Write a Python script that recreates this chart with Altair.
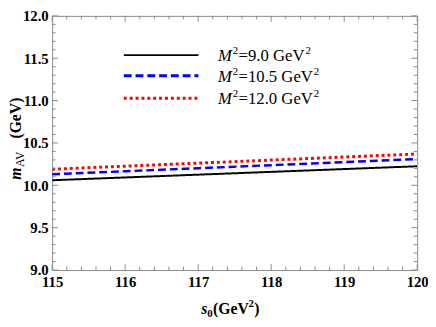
import altair as alt
import pandas as pd

# ---- data ----
s0 = [115, 116, 117, 118, 119, 120]
m_M9 = [10.06, 10.093, 10.126, 10.159, 10.192, 10.225]
m_M105 = [10.13, 10.166, 10.202, 10.238, 10.274, 10.31]
m_M12 = [10.19, 10.226, 10.262, 10.298, 10.334, 10.37]

series_names = ["M2=9.0", "M2=10.5", "M2=12.0"]
legend_mid = ["=9.0 GeV", "=10.5 GeV", "=12.0 GeV"]
colors = ["#000000", "#0000ff", "#ff0000"]
dashes = [[1, 0], [8, 4], [3, 3]]
widths = [2, 3, 3]

x_major = [115, 116, 117, 118, 119, 120]
x_minor = [115.2, 115.4, 115.6, 115.8, 116.2, 116.4, 116.6, 116.8,
           117.2, 117.4, 117.6, 117.8, 118.2, 118.4, 118.6, 118.8,
           119.2, 119.4, 119.6, 119.8]
y_major = [9.0, 9.5, 10.0, 10.5, 11.0, 11.5, 12.0]
y_minor = [9.1, 9.2, 9.3, 9.4, 9.6, 9.7, 9.8, 9.9, 10.1, 10.2, 10.3, 10.4,
           10.6, 10.7, 10.8, 10.9, 11.1, 11.2, 11.3, 11.4, 11.6, 11.7, 11.8, 11.9]

W, H = 372, 259
FONT = "Liberation Serif"
TICK = "#8a8a8a"

rows = []
for name, vals in zip(series_names, [m_M9, m_M105, m_M12]):
    for x, y in zip(s0, vals):
        rows.append({"s0": x, "m": y, "series": name})
df = pd.DataFrame(rows)

xs = alt.Scale(domain=[115, 120], nice=False, zero=False)
ys = alt.Scale(domain=[9, 12], nice=False, zero=False)

x_axis = alt.Axis(
    values=x_major, domain=False, ticks=False, grid=False, title=None,
    labelFont=FONT, labelFontWeight="bold", labelFontSize=15,
    labelColor="black", labelPadding=5, labelFlush=False)
y_axis = alt.Axis(
    values=y_major, format=".1f", domain=False, ticks=False, grid=False,
    title=None, labelFont=FONT, labelFontWeight="bold", labelFontSize=15,
    labelColor="black", labelPadding=4, labelFlush=False)

lines = alt.Chart(df).mark_line(clip=True).encode(
    x=alt.X("s0:Q", scale=xs, axis=x_axis),
    y=alt.Y("m:Q", scale=ys, axis=y_axis),
    color=alt.Color("series:N", scale=alt.Scale(domain=series_names, range=colors), legend=None),
    strokeDash=alt.StrokeDash("series:N", scale=alt.Scale(domain=series_names, range=dashes), legend=None),
    strokeWidth=alt.StrokeWidth("series:N", scale=alt.Scale(domain=series_names, range=widths), legend=None),
)

def xticks(vals, length):
    d = pd.DataFrame({"v": vals})
    bottom = alt.Chart(d).mark_rule(color=TICK, strokeWidth=1).encode(
        x=alt.X("v:Q", scale=xs, axis=x_axis), y=alt.value(H), y2=alt.value(H - length))
    top = alt.Chart(d).mark_rule(color=TICK, strokeWidth=1).encode(
        x=alt.X("v:Q", scale=xs, axis=x_axis), y=alt.value(0), y2=alt.value(length))
    return [bottom, top]

def yticks(vals, length):
    d = pd.DataFrame({"v": vals})
    left = alt.Chart(d).mark_rule(color=TICK, strokeWidth=1).encode(
        y=alt.Y("v:Q", scale=ys, axis=y_axis), x=alt.value(0), x2=alt.value(length))
    right = alt.Chart(d).mark_rule(color=TICK, strokeWidth=1).encode(
        y=alt.Y("v:Q", scale=ys, axis=y_axis), x=alt.value(W), x2=alt.value(W - length))
    return [left, right]

tick_layers = xticks(x_major, 6) + xticks(x_minor, 3.5) + yticks(y_major, 6) + yticks(y_minor, 3.5)

def txt(text, x, y, size, weight="normal", style="normal", angle=0, align="left", baseline="alphabetic"):
    return alt.Chart(alt.Data(values=[{"t": text}])).mark_text(
        font=FONT, fontSize=size, fontWeight=weight, fontStyle=style, angle=angle,
        align=align, baseline=baseline, color="black").encode(
        text="t:N", x=alt.value(x), y=alt.value(y))

CW = {"=": 0.564, ".": 0.25, " ": 0.25, "G": 0.722, "e": 0.444, "V": 0.722}
def text_width(s, size):
    return sum(CW.get(c, 0.5) for c in s) * size

# legend
legend_layers = []
row_y = [40, 61, 84]
LS = 17
for i in range(3):
    ld = alt.Data(values=[{"k": series_names[i]}])
    legend_layers.append(alt.Chart(ld).mark_rule(
        color=colors[i], strokeWidth=widths[i], strokeDash=dashes[i]).encode(
        x=alt.value(73), x2=alt.value(149), y=alt.value(row_y[i])))
    base = row_y[i] + 6
    x0 = 169
    legend_layers.append(txt("M", x0, base, LS, style="italic"))
    legend_layers.append(txt("2", x0 + 15, base - 7, 11))
    legend_layers.append(txt(legend_mid[i], x0 + 21, base, LS))
    legend_layers.append(txt("2", x0 + 22 + text_width(legend_mid[i], LS), base - 7, 11))

# axis titles
title_layers = [
    txt("s", 152, 304, 16, weight="bold", style="italic"),
    txt("0", 158, 307, 11, weight="bold"),
    txt("(GeV", 164, 304, 16, weight="bold"),
    txt("2", 200, 297, 11, weight="bold"),
    txt(")", 206, 304, 16, weight="bold"),
    txt("m", -32, 167, 16, weight="bold", style="italic", angle=270),
    txt("AV", -29, 154, 12, angle=270),
    txt("(GeV)", -32, 125, 16, weight="bold", angle=270),
]

chart = alt.layer(lines, *tick_layers, *legend_layers, *title_layers).properties(
    width=W, height=H,
    autosize=alt.AutoSizeParams(type="none"),
    padding={"left": 45, "top": 5, "right": 11, "bottom": 55},
).configure_view(stroke=TICK, strokeWidth=1)

chart.save("out.html", embed_options={"renderer": "svg", "actions": False})
